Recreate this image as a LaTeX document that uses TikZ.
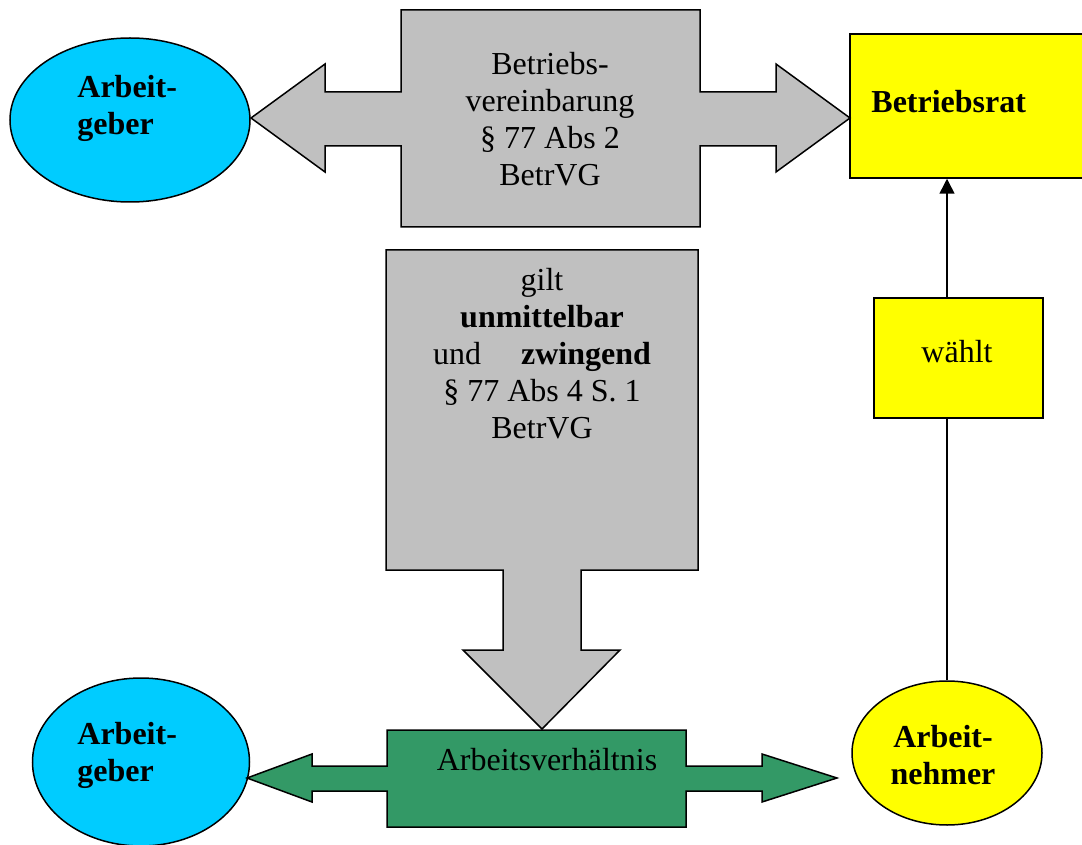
\documentclass[tikz,border=0pt]{standalone}
\usepackage{fontspec}
\setmainfont{Liberation Serif}
\usepackage{tikz}
\usetikzlibrary{calc, shapes.geometric, arrows.meta}
\definecolor{himmel}{RGB}{0,204,255}
\definecolor{hellgrau}{RGB}{192,192,192}
\definecolor{zitrone}{RGB}{255,255,0}
\definecolor{seegruen}{RGB}{51,153,102}
\tikzset{
    rand/.style={draw=black, line width=0.75pt},
    oval/.style={rand, ellipse, inner sep=0pt},
    kasten/.style={rand, rectangle, inner sep=0pt},
    schrift/.style={font=\fontsize{16}{18.5}\selectfont, align=center, inner sep=0pt},
    fett/.style={font=\fontsize{16}{18.5}\selectfont\bfseries, align=left, inner sep=0pt}
}

\begin{document}
\begin{tikzpicture}[x=0.5pt, y=-0.5pt]
                \useasboundingbox (0,0) rectangle (1082,845);
                \node[oval, fill=himmel, minimum width=120pt, minimum height=82pt] (agOben) at (130,120) {};
                \node[oval, fill=himmel, minimum width=108.5pt, minimum height=84pt] (agUnten) at (141,762) {};
                \node[oval, fill=zitrone, minimum width=95pt, minimum height=72pt] (anehmer) at (947,753) {};
                \node[kasten, fill=zitrone, minimum width=117.5pt, minimum height=72pt] (brat) at (967.5,106) {};
                \node[kasten, fill=zitrone, minimum width=84.5pt, minimum height=60pt] (waehlt) at (958.5,358) {};
                \draw[rand, fill=hellgrau] (251,118) -- (325,64) -- (325,92) -- (401,92) -- (401,10) -- (700,10)
                    -- (700,92) -- (776,92) -- (776,64) -- (850,118) -- (776,172) -- (776,146) -- (700,146)
                    -- (700,227) -- (401,227) -- (401,146) -- (325,146) -- (325,172) -- cycle;
                \draw[rand, fill=hellgrau] (386,250) -- (698,250) -- (698,570) -- (581,570) -- (581,650) -- (620,650)
                    -- (542,729) -- (463,650) -- (503,650) -- (503,570) -- (386,570) -- cycle;
                \draw[rand, fill=seegruen] (247,778) -- (312,754) -- (312,766) -- (387,766) -- (387,730) -- (686,730)
                    -- (686,766) -- (762,766) -- (762,754) -- (837,778) -- (762,802) -- (762,791) -- (686,791)
                    -- (686,827) -- (387,827) -- (387,791) -- (312,791) -- (312,802) -- cycle;
                \draw[rand] (anehmer.north) -- (anehmer.north |- waehlt.south);
                \draw[rand, -{Triangle[length=7.5pt, width=7.5pt]}] (anehmer.north |- waehlt.north) -- (anehmer.north |- brat.south);
                \node[fett, anchor=west] (agObenText) at (77,108) {Arbeit-\\geber};
                \node[fett, anchor=west] (agUntenText) at (77,755) {Arbeit-\\geber};
                \node[fett, align=center] (anehmerText) at (943,755) {Arbeit-\\nehmer};
                \node[fett, anchor=west] (bratText) at (871,102) {Betriebsrat};
                \node[schrift] (waehltText) at (957,352) {wählt};
                \node[schrift] (vereinbarung) at (550,119) {Betriebs-\\vereinbarung\\§ 77 Abs 2\\BetrVG};
                \node[schrift] (wirkung) at (542,354) {gilt\\\textbf{unmittelbar}\\und\hspace{20pt}\textbf{zwingend}\\§ 77 Abs 4 S. 1\\BetrVG};
                \node[schrift] (verhaeltnis) at (547,760) {Arbeitsverhältnis};
            \end{tikzpicture}
\end{document}
